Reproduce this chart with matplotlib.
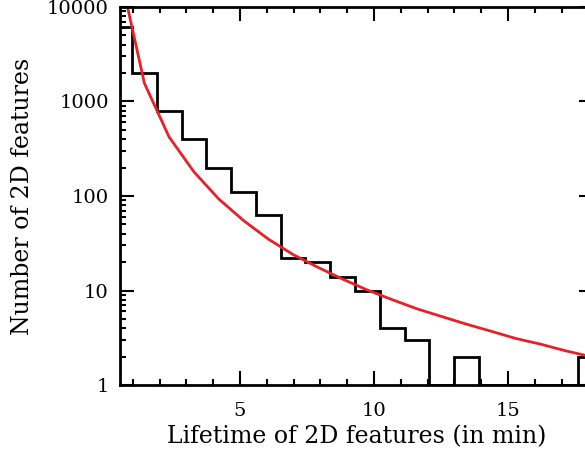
import numpy as np
import matplotlib
matplotlib.use("Agg")
import matplotlib.pyplot as plt
from matplotlib.ticker import FixedLocator, LogLocator, NullFormatter

# histogram of lifetimes (bin width ~0.925 min)
bin_width = 0.925
first_edge = 0.045
counts = [6100, 2000, 800, 400, 200, 110, 63, 22, 20, 14,
          10, 4, 3, 0, 2, 0, 0, 0, 0, 2]

# fitted curve, read at the bin centres
fit_values = [24000, 1560, 420, 180, 93, 55, 35, 24, 17.6, 13.2,
              10.1, 8.0, 6.4, 5.3, 4.4, 3.7, 3.1, 2.7, 2.3, 2.0]

x_ticks = [5, 10, 15]
y_ticks = [1, 10, 100, 1000, 10000]
y_tick_labels = ["1", "10", "100", "1000", "10000"]

edges = first_edge + bin_width * np.arange(len(counts) + 1)
centres = 0.5 * (edges[:-1] + edges[1:])
# zero bins drop onto the axis floor
plot_counts = np.where(np.array(counts) > 0, counts, 1)

plt.rcParams["font.family"] = "DejaVu Serif"

fig = plt.figure(figsize=(5.85, 4.51), dpi=100)
ax = fig.add_axes([0.205, 0.1463, 0.8085, 0.8382])

ax.stairs(plot_counts, edges, color="black", linewidth=2)
ax.plot(centres, fit_values, color="#e8202a", linewidth=2)

ax.set_yscale("log")
ax.set_xlim(0.52, 18.17)
ax.set_ylim(1, 10000)

ax.xaxis.set_major_locator(FixedLocator(x_ticks))
ax.xaxis.set_minor_locator(FixedLocator(np.arange(1, 19, 1)))
ax.yaxis.set_major_locator(FixedLocator(y_ticks))
ax.set_yticklabels(y_tick_labels)
ax.yaxis.set_minor_locator(LogLocator(base=10, subs=np.arange(2, 10)))
ax.yaxis.set_minor_formatter(NullFormatter())

ax.tick_params(which="both", direction="in", top=True, right=True,
               labelsize=14, width=1.5)
ax.tick_params(which="major", length=10)
ax.tick_params(which="minor", length=4.5)
ax.tick_params(axis="x", which="major", pad=12)
ax.tick_params(axis="y", which="major", pad=8)
for s in ax.spines.values():
    s.set_linewidth(2)

ax.set_xlabel("Lifetime of 2D features (in min)", fontsize=17, labelpad=4)
ax.set_ylabel("Number of 2D features", fontsize=17, labelpad=9)

fig.savefig("out.png", dpi=100)
